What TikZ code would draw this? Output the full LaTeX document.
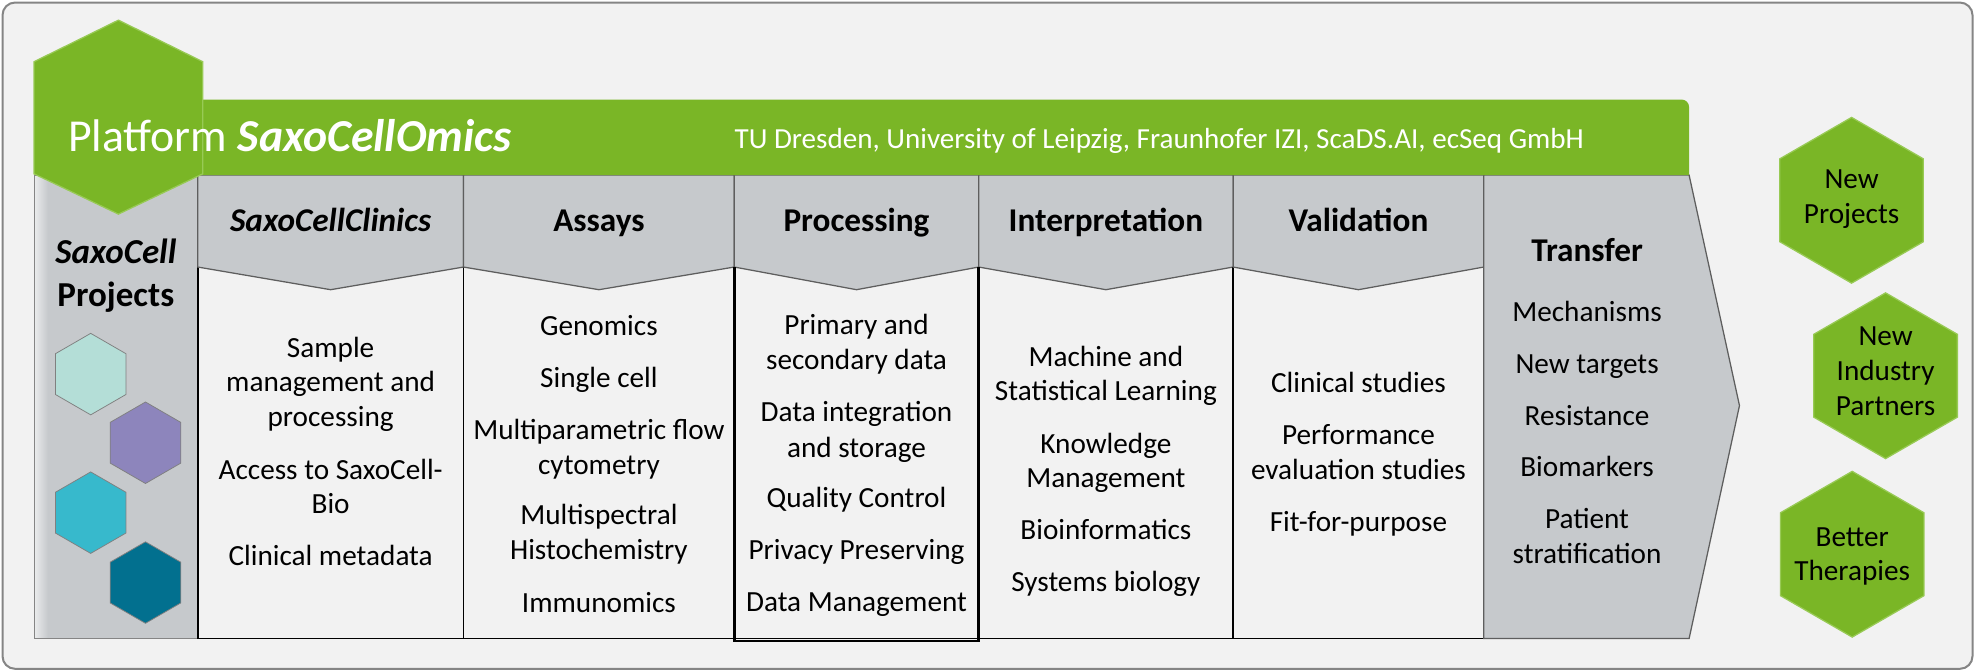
\documentclass[tikz,border=0pt]{standalone}
\usepackage{fontspec}
\setmainfont{Carlito}
\usetikzlibrary{shapes.geometric}
\definecolor{platgreen}{HTML}{7AB626}
\definecolor{hexedge}{HTML}{98CA55}
\definecolor{colgray}{HTML}{C6C9CC}
\definecolor{paper}{HTML}{F2F2F2}
\definecolor{rimgray}{HTML}{858585}
\definecolor{linegray}{HTML}{5E5E5E}
\definecolor{mint}{HTML}{B4DED7}
\definecolor{lilac}{HTML}{8D85BC}
\definecolor{cyanhex}{HTML}{37B9CC}
\definecolor{petrol}{HTML}{02708F}
\tikzset{
  item/.style={font=\fontsize{23.2}{27.5}\selectfont, anchor=base, inner sep=0pt},
  headtxt/.style={font=\fontsize{26.4}{30}\selectfont\bfseries, anchor=base, inner sep=0pt},
  greenhex/.style={regular polygon, regular polygon sides=6, shape border rotate=30,
    minimum size=131.6pt, inner sep=0pt, fill=platgreen, draw=hexedge, line width=1pt},
  tinyhex/.style={regular polygon, regular polygon sides=6, shape border rotate=30,
    minimum size=64.7pt, inner sep=0pt, draw=gray, line width=0.6pt},
  bodyline/.style={draw=black, line width=1.2pt},
}
\begin{document}
\begin{tikzpicture}[x=1pt,y=-1pt]
  \useasboundingbox (0,0) rectangle (1568,532.7);
  \draw[rimgray, fill=paper, line width=1.6pt, rounded corners=10pt] (2,2) rectangle (1566,531);

  % left column and the small project hexagons
  \fill[colgray] (27,139) rectangle (157,507);
  \shade[left color=colgray!35!white, right color=colgray] (27,139) rectangle (38,507);
  \draw[rimgray, line width=0.8pt] (27,139) rectangle (157,507);
  \path
    (72,297) node[tinyhex, fill=mint] (hmint){}
    (115.5,351.5) node[tinyhex, fill=lilac] (hlilac){}
    (72,407) node[tinyhex, fill=cyanhex] (hcyan){}
    (115.5,462.5) node[tinyhex, fill=petrol] (hpetrol){};

  % columns with chevron headers
  \foreach \xl/\xr in {157/368, 368/583, 583/777, 777/979, 979/1178} {
    \pgfmathsetmacro\xc{(\xl+\xr)/2}
    \draw[bodyline] (\xl,212) -- (\xl,507) -- (\xr,507) -- (\xr,212);
    \draw[fill=colgray, draw=linegray, line width=1pt]
      (\xl,139) -- (\xr,139) -- (\xr,212) -- (\xc,230) -- (\xl,212) -- cycle;
  }
  \draw[black, line width=2pt] (583,212) -- (583,509) -- (777,509) -- (777,212);
  \draw[fill=colgray, draw=linegray, line width=1pt]
    (1178,139) -- (1341,139) -- (1381,322) -- (1341,507) -- (1178,507) -- cycle;

  % platform banner
  \fill[platgreen] (60,139) -- (60,79) [rounded corners=6pt] -- (1341,79) [sharp corners] -- (1341,139) -- cycle;
  \draw[fill=platgreen, draw=hexedge, line width=1pt]
    (27,49) -- (94,16) -- (161,49) -- (161,138) -- (94,170) -- (27,138) -- cycle;
  \node[anchor=base west, inner sep=0pt, text=white, font=\fontsize{36.3}{40}\selectfont] (title)
    at (54,120.4) {Platform \textbf{\textit{SaxoCellOmics}}};
  \node[anchor=base west, inner sep=0pt, text=white, font=\fontsize{23.1}{26}\selectfont] (partners)
    at (583,117.8) {TU Dresden, University of Leipzig, Fraunhofer IZI, ScaDS.AI, ecSeq GmbH};

  \path[every node/.style={font=\fontsize{27.8}{30}\selectfont\bfseries, anchor=base, inner sep=0pt}]
    (92,209) node (proj1){\textit{SaxoCell}}
    (92,243.5) node (proj2){Projects};

  \path[every node/.style={headtxt}]
    (262.5,183.5) node (hclin){\textit{SaxoCellClinics}}
    (475.5,183.5) node (hassay){Assays}
    (680,183.5) node (hproc){Processing}
    (878,183.5) node (hinterp){Interpretation}
    (1078.5,183.5) node (hvalid){Validation}
    (1260,207.5) node (htrans){Transfer};

  \path[every node/.style={item}]
    (262.5,283.5) node (clin1){Sample}
    (262.5,311) node (clin2){management and}
    (262.5,338.5) node (clin3){processing}
    (262.5,380.5) node (clin4){Access to SaxoCell-}
    (262.5,408) node (clin5){Bio}
    (262.5,449) node (clin6){Clinical metadata};

  \path[every node/.style={item}]
    (475.5,266.3) node (assay1){Genomics}
    (475.5,307.9) node (assay2){Single cell}
    (475.5,349.2) node (assay3){Multiparametric flow}
    (475.5,376.7) node (assay4){cytometry}
    (475.5,416.5) node (assay5){Multispectral}
    (475.5,444) node (assay6){Histochemistry}
    (475.5,486) node (assay7){Immunomics};

  \path[every node/.style={item}]
    (680,265.6) node (proc1){Primary and}
    (680,293.6) node (proc2){secondary data}
    (680,335) node (proc3){Data integration}
    (680,363) node (proc4){and storage}
    (680,403) node (proc5){Quality Control}
    (680,444) node (proc6){Privacy Preserving}
    (680,485.5) node (proc7){Data Management};

  \path[every node/.style={item}]
    (878,291) node (interp1){Machine and}
    (878,318) node (interp2){Statistical Learning}
    (878,359.8) node (interp3){Knowledge}
    (878,387.3) node (interp4){Management}
    (878,428.6) node (interp5){Bioinformatics}
    (878,469.6) node (interp6){Systems biology};

  \path[every node/.style={item}]
    (1078.5,311.3) node (valid1){Clinical studies}
    (1078.5,352.9) node (valid2){Performance}
    (1078.5,380.7) node (valid3){evaluation studies}
    (1078.5,422) node (valid4){Fit-for-purpose};

  \path[every node/.style={item}]
    (1260,255) node (trans1){Mechanisms}
    (1260,296.2) node (trans2){New targets}
    (1260,337.8) node (trans3){Resistance}
    (1260,378) node (trans4){Biomarkers}
    (1260,419.3) node (trans5){Patient}
    (1260,447.6) node (trans6){stratification};

  % outcomes
  \path
    (1470,159) node[greenhex] (outproj){}
    (1497,298.3) node[greenhex] (outind){}
    (1470.5,440) node[greenhex] (outther){};
  \path[every node/.style={item}]
    (1470,149.5) node (outproj1){New}
    (1470,177.3) node (outproj2){Projects}
    (1497,274) node (outind1){New}
    (1497,301.7) node (outind2){Industry}
    (1497,329.5) node (outind3){Partners}
    (1470.5,434) node (outther1){Better}
    (1470.5,461) node (outther2){Therapies};
\end{tikzpicture}
\end{document}
